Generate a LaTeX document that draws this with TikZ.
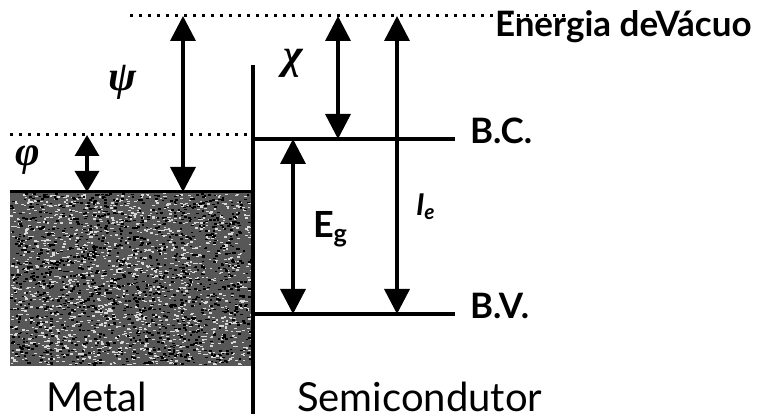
\documentclass[tikz,border=0pt]{standalone}
\usepackage{fontspec}
\setmainfont{Lato}
\newfontfamily\grk{Liberation Serif}
\usetikzlibrary{arrows.meta}
\begin{document}
\begin{tikzpicture}[x=1pt,y=-1pt,
  lvl/.style={line width=4pt},
  dotline/.style={line width=3pt, dash pattern=on 3pt off 6pt},
  dimarrow/.style={line width=3.5pt, {Triangle[length=25pt,width=25pt]}-{Triangle[length=25pt,width=25pt]}},
  shortarrow/.style={line width=3.5pt, {Triangle[length=21pt,width=24pt]}-{Triangle[length=21pt,width=24pt]}},
  lbl/.style={inner sep=0pt, outer sep=0pt},
  greek/.style={inner sep=0pt, font=\fontsize{42}{42}\selectfont\grk\bfseries\itshape}
]
\useasboundingbox (0,0) rectangle (769,419);

% coordinates
\coordinate (vacL) at (130,16); \coordinate (vacR) at (568,16);
\coordinate (fL) at (10,135);   \coordinate (fR) at (250,135);
\coordinate (ifT) at (253,65);  \coordinate (ifB) at (253,414);
\coordinate (bcL) at (253,139); \coordinate (bcR) at (455,139);
\coordinate (bvL) at (253,314); \coordinate (bvR) at (455,314);
\coordinate (phiT) at (87,135); \coordinate (phiB) at (87,192);
\coordinate (psiT) at (183,16); \coordinate (psiB) at (183,192);
\coordinate (chiT) at (338,16); \coordinate (chiB) at (338,139);
\coordinate (egT) at (293,139); \coordinate (egB) at (293,314);
\coordinate (ieT) at (397,16);  \coordinate (ieB) at (397,314);

% metal block with texture
\fill[black!66] (10,192) rectangle (254,366);
\pgfmathsetseed{7}
\foreach \i in {1,...,1700}{%
  \pgfmathsetmacro{\rx}{10+241*rnd}\pgfmathsetmacro{\ry}{193+171*rnd}%
  \fill[white!85!black] (\rx,\ry) rectangle ++(2.6,1.3);}
\foreach \i in {1,...,1400}{%
  \pgfmathsetmacro{\rx}{10+241*rnd}\pgfmathsetmacro{\ry}{193+171*rnd}%
  \fill[black] (\rx,\ry) rectangle ++(2.6,1.6);}
\draw[line width=3pt] (10,192) -- (254,192);

% levels
\draw[dotline] (vacL) -- (vacR);
\draw[dotline] (fL) -- (fR);
\draw[lvl] (ifT) -- (ifB);
\draw[lvl] (bcL) -- (bcR);
\draw[lvl] (bvL) -- (bvR);

% arrows
\draw[shortarrow] (phiT) -- (phiB);
\draw[dimarrow] (psiT) -- (psiB);
\draw[dimarrow] (chiT) -- (chiB);
\draw[dimarrow] (egT) -- (egB);
\draw[dimarrow] (ieT) -- (ieB);

% labels
\node[greek] (psi) at (123,82) {ψ};
\node[greek] (chi) at (293,63) {χ};
\node[greek] (phi) at (28,160) {φ};
\node[lbl, anchor=base west, font=\fontsize{35}{35}\selectfont\bfseries] (vac) at (495,37) {Energia deVácuo};
\node[lbl, anchor=base west, font=\fontsize{35}{35}\selectfont\bfseries] (bc) at (470,144) {B.C.};
\node[lbl, anchor=base west, font=\fontsize{35}{35}\selectfont\bfseries] (bv) at (470,319) {B.V.};
\node[lbl, anchor=base west, font=\fontsize{36}{36}\selectfont\bfseries] (eg) at (313,238) {E\textsubscript{g}};
\node[lbl, anchor=base west, font=\fontsize{30}{30}\selectfont\bfseries\itshape] (ie) at (416,216) {I\textsubscript{e}};
\node[lbl, anchor=base west, font=\fontsize{40}{40}\selectfont] (metal) at (46,412) {Metal};
\node[lbl, anchor=base west, font=\fontsize{40}{40}\selectfont] (semi) at (297,412) {Semicondutor};
\end{tikzpicture}
\end{document}
